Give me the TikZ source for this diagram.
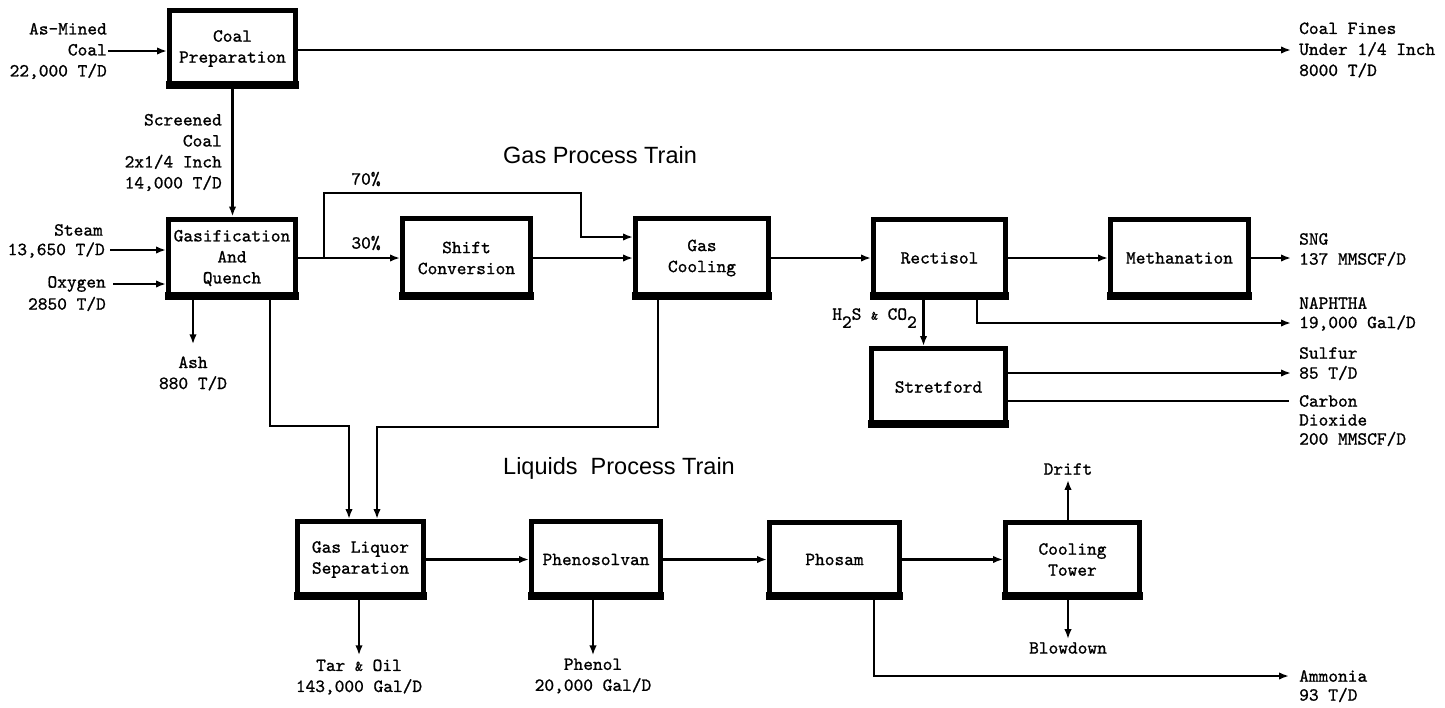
\documentclass[tikz,border=0pt]{standalone}
\usepackage{fontspec}
\newfontfamily\titlefont{Liberation Sans}
\newfontfamily\mymono{lmmono10-regular.otf}[FakeBold=1]
\usetikzlibrary{arrows.meta}
\begin{document}
\begin{tikzpicture}[x=1pt,y=-1pt,
  every node/.style={font=\fontsize{18.5}{21}\selectfont\mymono},
  box/.style={draw, line width=5pt, align=center, inner sep=0pt},
  lbl/.style={inner sep=1pt},
  conn/.style={line width=2.2pt},
  arr/.style={conn, -{Latex[length=10pt,width=7.5pt]}},
  title/.style={font=\fontsize{23.5}{26}\selectfont\titlefont, inner sep=0pt}
]
\useasboundingbox (0,0) rectangle (1445,707);

% process boxes
\node[box, minimum width=126pt, minimum height=76pt] (prep)  at (232.5,48.5) {Coal\\Preparation};
\node[box, minimum width=127pt, minimum height=78pt] (gasif) at (232,258) {Gasification\\And\\Quench};
\node[box, minimum width=128pt, minimum height=79pt] (shift) at (466.5,258) {Shift\\Conversion};
\node[box, minimum width=133pt, minimum height=79pt] (cool)  at (702,258) {Gas\\Cooling};
\node[box, minimum width=132pt, minimum height=78pt] (rect)  at (939.5,258) {Rectisol};
\node[box, minimum width=138pt, minimum height=78pt] (meth)  at (1179.5,258) {Methanation};
\node[box, minimum width=134pt, minimum height=77pt] (stret) at (938.5,387) {Stretford};
\node[box, minimum width=126pt, minimum height=76pt] (gls)   at (360.5,559.5) {Gas Liquor\\Separation};
\node[box, minimum width=129pt, minimum height=76pt] (phen)  at (596,559.5) {Phenosolvan};
\node[box, minimum width=130pt, minimum height=75pt] (phos)  at (834.5,559.5) {Phosam};
\node[box, minimum width=134pt, minimum height=75pt] (ctow)  at (1072.5,559.5) {Cooling\\Tower};
\foreach \n in {prep,gasif,shift,cool,rect,meth,stret,gls,phen,phos,ctow}
  \fill ([xshift=-1pt]\n.south west) rectangle ([xshift=1pt,yshift=8pt]\n.south east);

% titles
\node[title, anchor=west] (gpt) at (503,155) {Gas Process Train};
\node[title, anchor=west] (lpt) at (503,468) {Liquids~~Process Train};

% labels
\node[lbl, align=right, anchor=east] (asmined) at (108,51) {As-Mined\\Coal\\22,000 T/D};
\node[lbl, align=left, anchor=west] (fines) at (1298,50) {Coal Fines\\Under 1/4 Inch\\8000 T/D};
\node[lbl, align=right, anchor=east] (scr) at (223,152.5) {Screened\\Coal\\2x1/4 Inch\\14,000 T/D};
\node[lbl, anchor=east] (steam)  at (104,230) {Steam};
\node[lbl, anchor=east] (steamq) at (106,250) {13,650 T/D};
\node[lbl, anchor=east] (oxy)    at (107,284) {Oxygen};
\node[lbl, anchor=east] (oxyq)   at (107,304) {2850 T/D};
\node[lbl, align=center] (ash) at (193,373.5) {Ash\\880 T/D};
\node[lbl] (p70) at (366,179) {70\%};
\node[lbl] (p30) at (366,243) {30\%};
\node[lbl, anchor=west] (sng)   at (1298,239) {SNG};
\node[lbl, anchor=west] (sngq)  at (1298,259) {137 MMSCF/D};
\node[lbl, anchor=west] (naph)  at (1298,303) {NAPHTHA};
\node[lbl, anchor=west] (naphq) at (1298,323) {19,000 Gal/D};
\node[lbl, anchor=west] (sulf)  at (1298,353) {Sulfur};
\node[lbl, anchor=west] (sulfq) at (1298,373) {85 T/D};
\node[lbl, anchor=west] (carbon) at (1298,401) {Carbon};
\node[lbl, anchor=west] (diox)  at (1298,420) {Dioxide};
\node[lbl, anchor=west] (co2q)  at (1298,439) {200 MMSCF/D};
\node[lbl, anchor=east] (h2s) at (918,318) {H\raisebox{-8pt}{2}S {\fontsize{13}{13}\selectfont\&} CO\raisebox{-8pt}{2}};
\node[lbl, align=center] (tar) at (359,677) {Tar {\fontsize{15}{15}\selectfont\&} Oil\\143,000 Gal/D};
\node[lbl, align=center] (phenol) at (593,676) {Phenol\\20,000 Gal/D};
\node[lbl] (drift) at (1068,469) {Drift};
\node[lbl] (blow) at (1068,648) {Blowdown};
\node[lbl, anchor=west] (amm)  at (1298,676) {Ammonia};
\node[lbl, anchor=west] (ammq) at (1298,695) {93 T/D};

% junction coordinates
\coordinate (br) at (324,258);
\coordinate (top70) at (581,193);
\coordinate (j1) at (349,426);
\coordinate (j2) at (377,427);

% connectors
\draw[arr] (asmined.east) -- (asmined.east -| prep.west);
\draw[arr] (prep.east |- fines.west) -- ([xshift=-7pt]fines.west);
\draw[arr] (prep.south) -- (prep.south |- gasif.north);
\draw[arr] ([xshift=4pt]steamq.east) -- (steamq.east -| gasif.west);
\draw[arr] ([xshift=6pt]oxy.east) -- (oxy.east -| gasif.west);
\draw[arr] (ash.north |- gasif.south) -- ([yshift=11pt]ash.north);
\draw[arr] (gasif.east) -- (shift.west);
\draw[arr] (br) |- (top70) |- ([yshift=21pt]cool.west);
\draw[arr] (shift.east) -- (cool.west);
\draw[arr] (cool.east) -- (rect.west);
\draw[arr] (rect.east) -- (meth.west);
\draw[arr] (meth.east) -- ([xshift=-7pt]meth.east -| sngq.west);
\draw[arr] ([xshift=-16pt]rect.south) -- ([xshift=-16pt]rect.south |- stret.north);
\draw[arr] ([xshift=37.5pt]rect.south) |- ([xshift=-7pt]naphq.west);
\draw[arr] (stret.east |- sulfq.west) -- ([xshift=-7pt]sulfq.west);
\draw[conn] (stret.east |- carbon.west) -- ([xshift=-9pt]carbon.west);
\draw[arr] ([xshift=38pt]gasif.south) |- (j1) -- (j1 |- gls.north);
\draw[arr] ([xshift=-44pt]cool.south) |- (j2) -- (j2 |- gls.north);
\draw[arr] (gls.east) -- (phen.west);
\draw[arr] (tar.north |- gls.south) -- ([yshift=3pt]tar.north);
\draw[arr] (phenol.north |- phen.south) -- ([yshift=2pt]phenol.north);
\draw[arr] (phen.east) -- (phos.west);
\draw[arr] (phos.east) -- (ctow.west);
\draw[arr] (drift.south |- ctow.north) -- ([yshift=-4pt]drift.south);
\draw[arr] (blow.north |- ctow.south) -- ([yshift=2pt]blow.north);
\draw[arr] ([xshift=39.5pt]phos.south) |- ([xshift=-9pt]amm.west);
\end{tikzpicture}
\end{document}
